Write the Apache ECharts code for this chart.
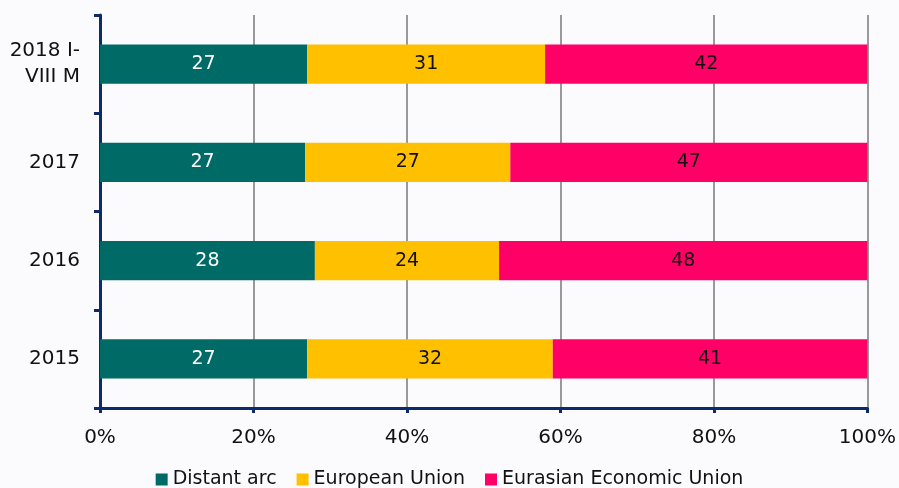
<!DOCTYPE html>
<html>
<head>
<meta charset="utf-8">
<script src="https://cdn.jsdelivr.net/npm/echarts@6/dist/echarts.min.js"></script>
<style>
  html, body { margin: 0; padding: 0; background: #fbfbfe; }
  #chart { width: 899px; height: 488px; }
</style>
</head>
<body>
<div id="chart"></div>
<script>
const categories = ['2015', '2016', '2017', '2018 I-\nVIII M']
const distantArc = [27, 28, 27, 27]
const europeanUnion = [32, 24, 27, 31]
const eurasianUnion = [41, 48, 47, 42]
const xTicks = ['0%', '20%', '40%', '60%', '80%', '100%']

const font = 'DejaVu Sans'
const totals = categories.map((c, i) => distantArc[i] + europeanUnion[i] + eurasianUnion[i])
const share = arr => arr.map((v, i) => ({ value: v / totals[i] * 100, raw: v }))

const makeSeries = (name, arr, color, textColor) => ({
  name,
  type: 'bar',
  stack: 'total',
  barWidth: '40%',
  data: share(arr),
  itemStyle: { color },
  label: {
    show: true,
    position: 'inside',
    color: textColor,
    fontFamily: font,
    fontSize: 19,
    formatter: p => p.data.raw
  }
})

const chart = echarts.init(document.getElementById('chart'))
chart.setOption({
  backgroundColor: '#fbfbfe',
  animation: false,
  grid: { left: 100, right: 31, top: 15, bottom: 80 },
  legend: {
    top: 465,
    left: 'center',
    itemWidth: 12,
    itemHeight: 12,
    itemGap: 20,
    icon: 'rect',
    textStyle: { fontFamily: font, fontSize: 19, color: '#111' },
    data: ['Distant arc', 'European Union', 'Eurasian Economic Union']
  },
  xAxis: {
    type: 'value',
    min: 0,
    max: 100,
    interval: 20,
    axisLine: { show: true, lineStyle: { color: '#0d2a6b', width: 3 } },
    axisTick: { show: true, length: 5, lineStyle: { color: '#0d2a6b', width: 3 } },
    splitLine: { show: true, lineStyle: { color: '#999', width: 2 } },
    axisLabel: {
      margin: 20,
      fontFamily: font,
      fontSize: 20,
      color: '#111',
      formatter: v => xTicks[v / 20]
    }
  },
  yAxis: {
    type: 'category',
    data: categories,
    axisLine: { show: true, lineStyle: { color: '#0d2a6b', width: 3 } },
    axisTick: { show: true, length: 6, lineStyle: { color: '#0d2a6b', width: 3 } },
    axisLabel: {
      margin: 20,
      fontFamily: font,
      fontSize: 20,
      color: '#111',
      lineHeight: 26,
      align: 'right'
    }
  },
  series: [
    makeSeries('Distant arc', distantArc, '#006a66', '#ffffff'),
    makeSeries('European Union', europeanUnion, '#ffc000', '#111111'),
    makeSeries('Eurasian Economic Union', eurasianUnion, '#ff0066', '#111111')
  ]
})
</script>
</body>
</html>
